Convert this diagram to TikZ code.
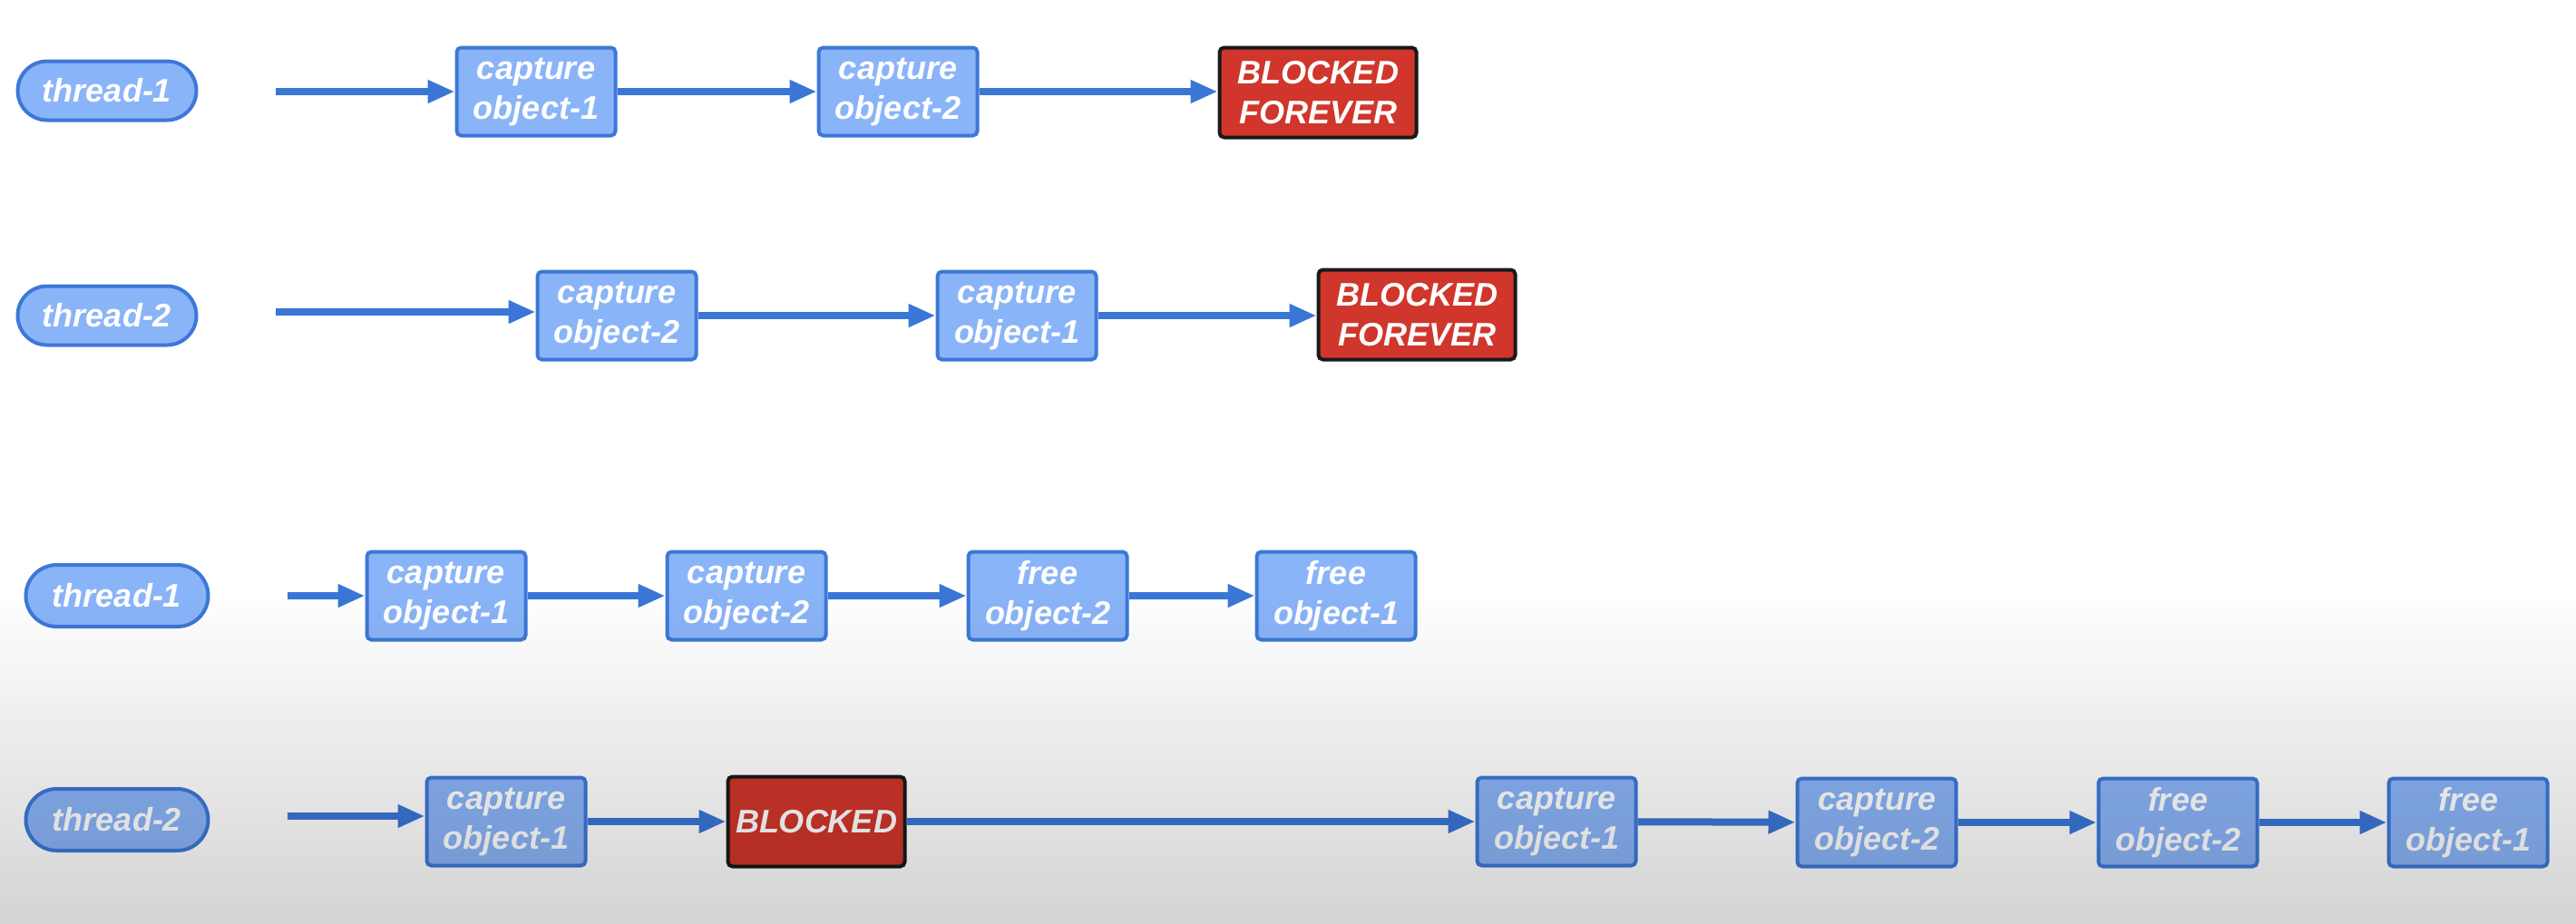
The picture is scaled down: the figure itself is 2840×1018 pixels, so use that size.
\documentclass[tikz,border=0pt]{standalone}
\usepackage{fontspec}
\setmainfont{Liberation Sans}
\usetikzlibrary{arrows.meta,shapes.misc}
\definecolor{boxfill}{HTML}{8AB4F8}
\definecolor{boxline}{HTML}{3C78D8}
\definecolor{arrowcol}{HTML}{3A76D6}
\definecolor{blockfill}{HTML}{D0362B}
\begin{document}
\begin{tikzpicture}[x=1pt,y=-1pt,
  lbl/.style={font=\fontsize{36}{44}\selectfont\bfseries\itshape, text=white, align=center, inner sep=0pt},
  stepbox/.style={lbl, draw=boxline, fill=boxfill, line width=4pt, rounded corners=5pt, minimum width=175pt, minimum height=97pt},
  blockbox/.style={lbl, draw=black!90, fill=blockfill, line width=4pt, rounded corners=5pt, minimum width=217pt, minimum height=99pt},
  pill/.style={lbl, draw=boxline, fill=boxfill, line width=4pt, rounded rectangle, minimum width=197pt, minimum height=65pt},
  flow/.style={draw=arrowcol, line width=8pt, -{Triangle[length=30pt,width=24pt]}}
]
\useasboundingbox (0,0) rectangle (2840,1018);
\fill[white] (0,0) rectangle (2840,1018);

% Row 1
\node[pill] (t1a) at (118,100) {thread-1};
\coordinate (s1) at (304,101);
\node[stepbox] (a1) at (591,101) {capture\\object-1};
\node[stepbox] (a2) at (990,101) {capture\\object-2};
\node[blockbox] (a3) at (1453,102) {BLOCKED\\FOREVER};
\draw[flow] (s1) -- (a1);
\draw[flow] (a1) -- (a2);
\draw[flow] (a2) -- (a2 -| a3.west);

% Row 2
\node[pill] (t2a) at (118,348) {thread-2};
\coordinate (s2) at (304,344);
\node[stepbox] (b1) at (680,348) {capture\\object-2};
\node[stepbox] (b2) at (1121,348) {capture\\object-1};
\node[blockbox] (b3) at (1562,347) {BLOCKED\\FOREVER};
\draw[flow] (s2) -- (s2 -| b1.west);
\draw[flow] (b1) -- (b2);
\draw[flow] (b2) -- (b2 -| b3.west);

% Row 3
\node[pill, minimum width=201pt, minimum height=68pt] (t1b) at (129,657) {thread-1};
\coordinate (s3) at (317,657);
\node[stepbox] (c1) at (492,657) {capture\\object-1};
\node[stepbox] (c2) at (823,657) {capture\\object-2};
\node[stepbox] (c3) at (1155,657) {free\\object-2};
\node[stepbox] (c4) at (1473,657) {free\\object-1};
\draw[flow] (s3) -- (c1);
\draw[flow] (c1) -- (c2);
\draw[flow] (c2) -- (c3);
\draw[flow] (c3) -- (c4);

% Row 4
\node[pill, minimum width=201pt, minimum height=68pt] (t2b) at (129,904) {thread-2};
\coordinate (s4) at (317,900);
\node[stepbox] (d1) at (558,906) {capture\\object-1};
\node[blockbox, minimum width=195pt] (d2) at (900,906) {BLOCKED};
\node[stepbox] (d3) at (1716,906) {capture\\object-1};
\node[stepbox] (d4) at (2069,907) {capture\\object-2};
\node[stepbox] (d5) at (2401,907) {free\\object-2};
\node[stepbox] (d6) at (2721,907) {free\\object-1};
\draw[flow] (s4) -- (s4 -| d1.west);
\draw[flow] (d1) -- (d2);
\draw[flow] (d2) -- (d3);
\draw[flow] (d3) -- (d4);
\draw[flow] (d4) -- (d5);
\draw[flow] (d5) -- (d6);

% grey fade at the bottom, drawn as thin strips
\foreach \i in {0,...,47}{
  \pgfmathsetmacro{\ytop}{650+\i*7.7}
  \pgfmathsetmacro{\ybot}{650+(\i+1)*7.7}
  \pgfmathsetmacro{\op}{0.17*(\i+0.5)/48}
  \fill[black, opacity=\op] (0,\ytop) rectangle (2840,\ybot);
}
\end{tikzpicture}
\end{document}
